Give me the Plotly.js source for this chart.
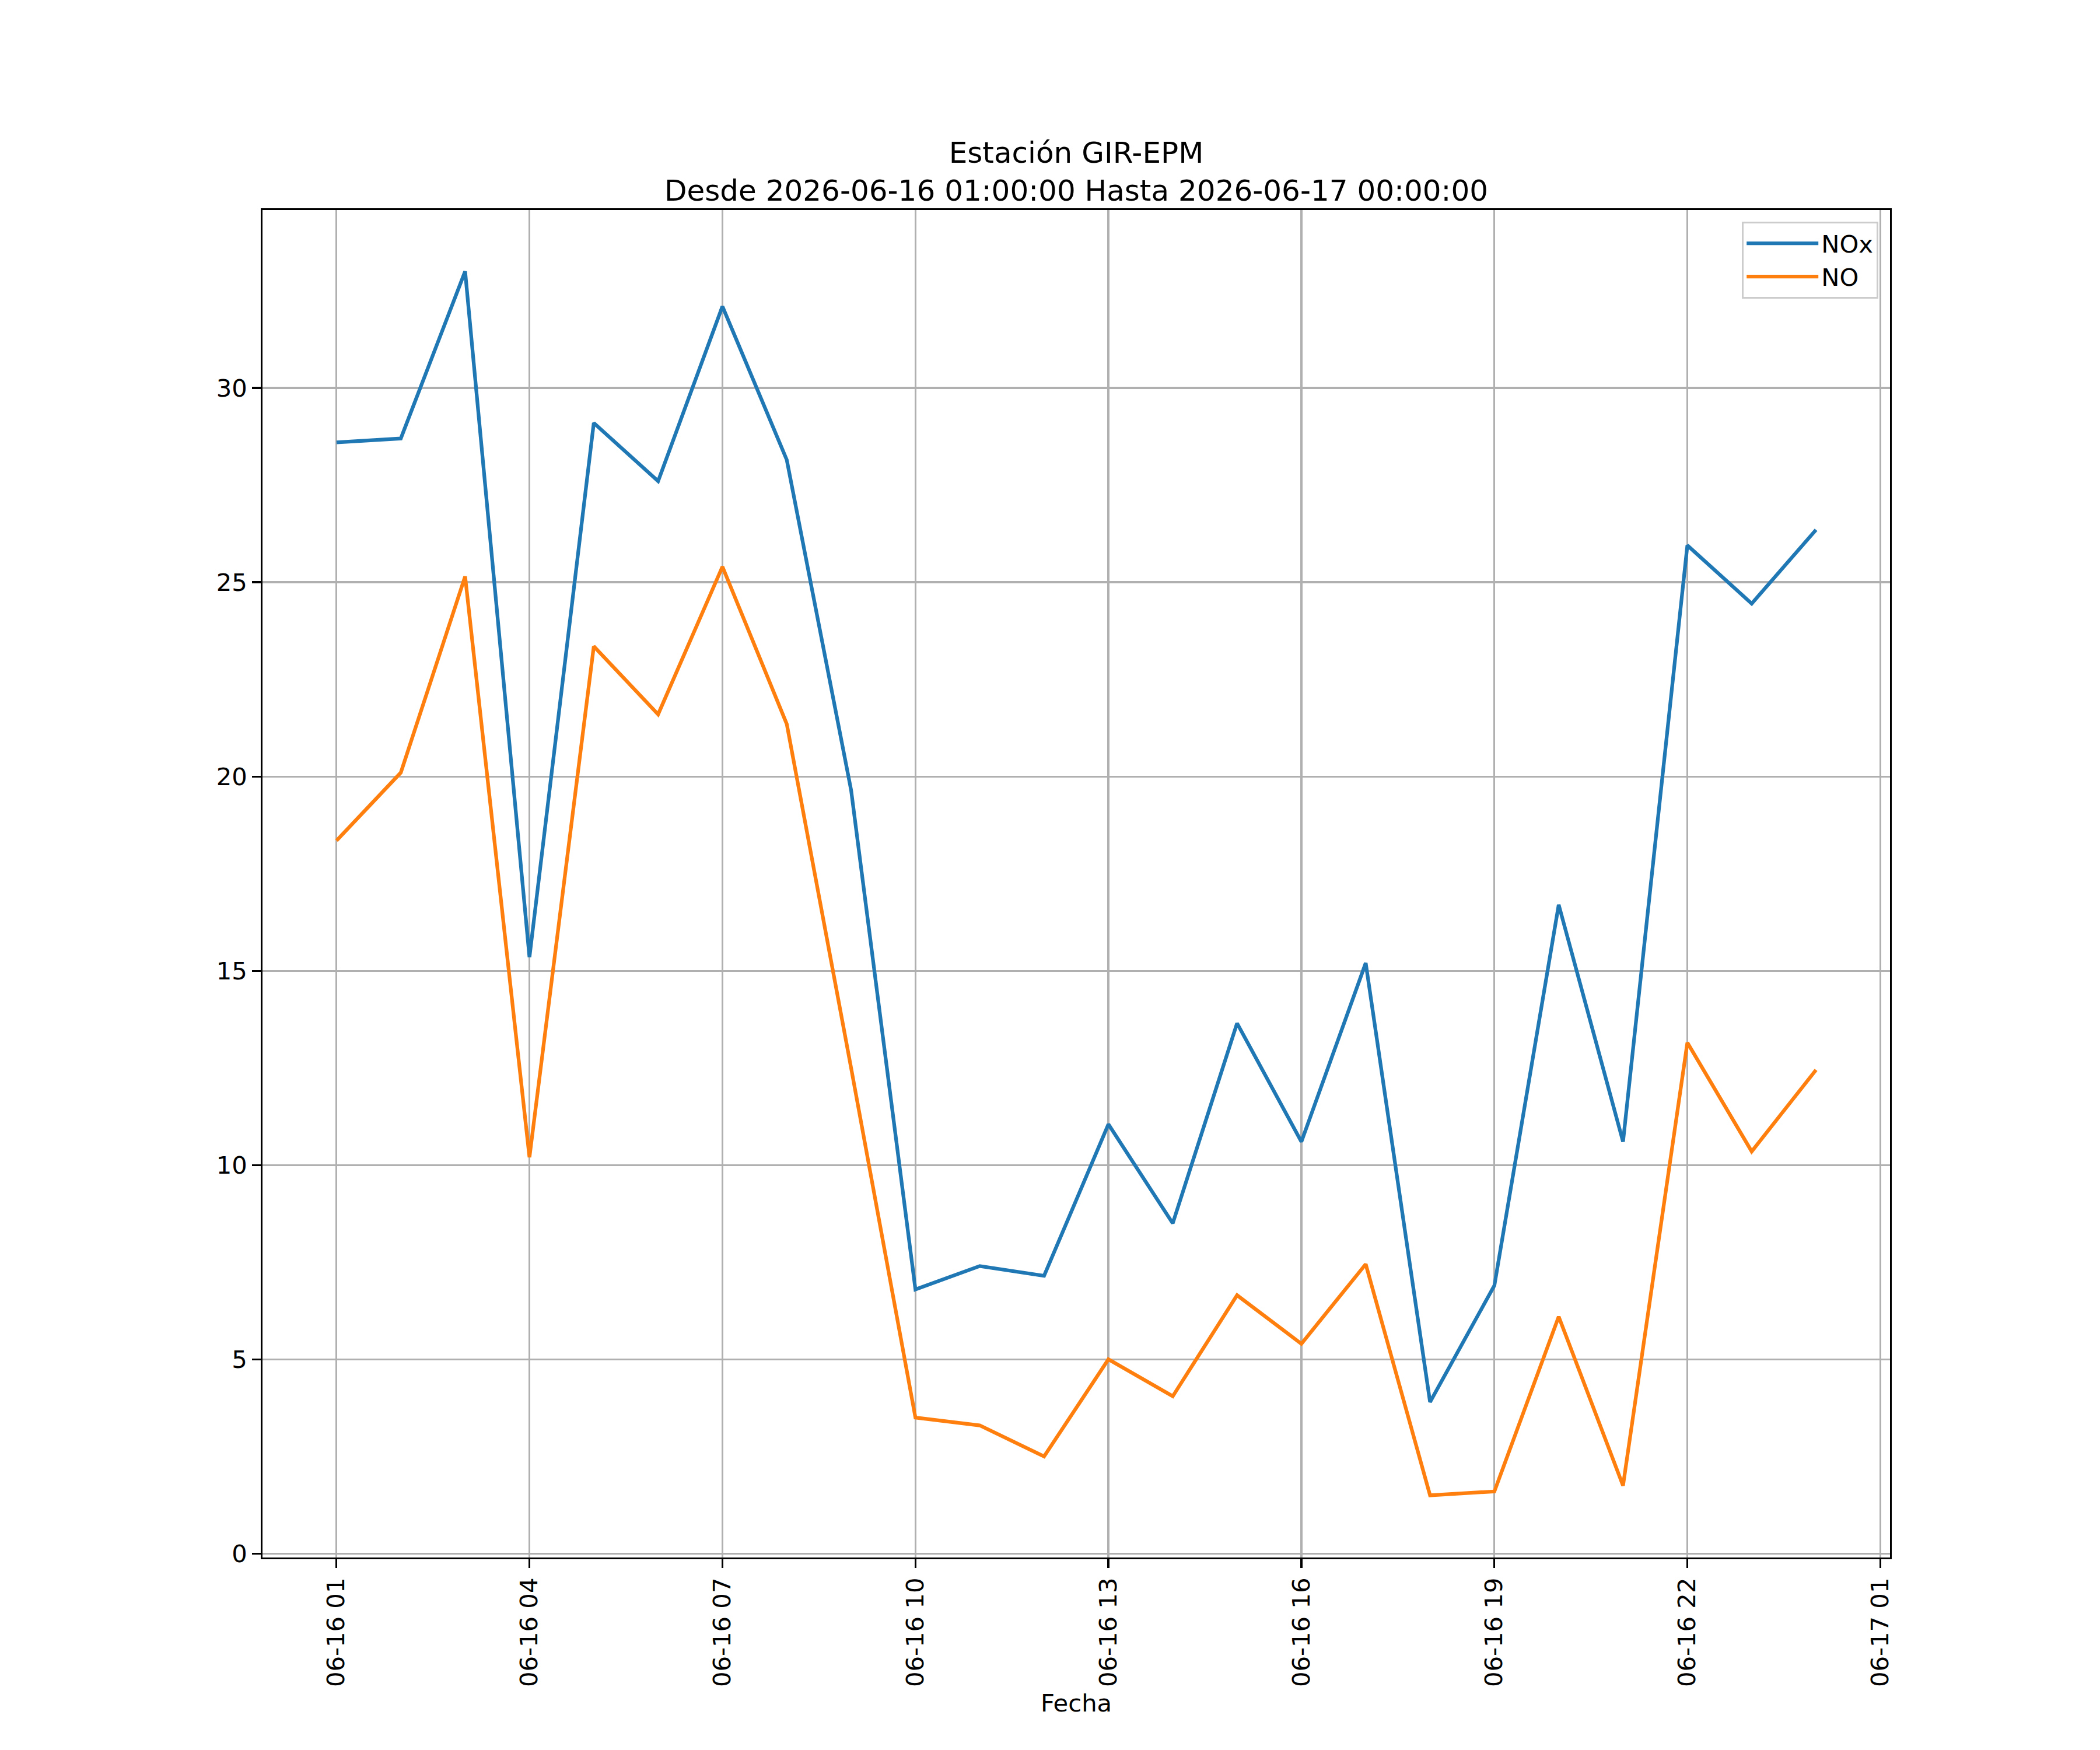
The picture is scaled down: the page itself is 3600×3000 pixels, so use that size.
<!DOCTYPE html>
<html>
<head>
<meta charset="utf-8">
<script src="https://cdn.plot.ly/plotly-3.0.1.min.js"></script>
<style>html,body{margin:0;padding:0;background:#fff;}</style>
</head>
<body>
<div id="chart" style="width:3600px;height:3000px;"></div>
<script>
const fechas = [
  '2026-06-16 01:00', '2026-06-16 02:00', '2026-06-16 03:00', '2026-06-16 04:00',
  '2026-06-16 05:00', '2026-06-16 06:00', '2026-06-16 07:00', '2026-06-16 08:00',
  '2026-06-16 09:00', '2026-06-16 10:00', '2026-06-16 11:00', '2026-06-16 12:00',
  '2026-06-16 13:00', '2026-06-16 14:00', '2026-06-16 15:00', '2026-06-16 16:00',
  '2026-06-16 17:00', '2026-06-16 18:00', '2026-06-16 19:00', '2026-06-16 20:00',
  '2026-06-16 21:00', '2026-06-16 22:00', '2026-06-16 23:00', '2026-06-17 00:00'
];
const nox = [28.6, 28.7, 33.0, 15.35, 29.1, 27.6, 32.1, 28.15, 19.65, 6.8, 7.4, 7.15,
             11.05, 8.5, 13.65, 10.6, 15.2, 3.9, 6.9, 16.7, 10.6, 25.95, 24.45, 26.35];
const no = [18.35, 20.1, 25.15, 10.2, 23.35, 21.6, 25.4, 21.35, 12.5, 3.5, 3.3, 2.5,
            5.0, 4.05, 6.65, 5.4, 7.45, 1.5, 1.6, 6.1, 1.75, 13.15, 10.35, 12.45];
const xTickVals = ['2026-06-16 01:00', '2026-06-16 04:00', '2026-06-16 07:00', '2026-06-16 10:00',
                   '2026-06-16 13:00', '2026-06-16 16:00', '2026-06-16 19:00', '2026-06-16 22:00',
                   '2026-06-17 01:00'];
const xTickText = ['06-16 01', '06-16 04', '06-16 07', '06-16 10', '06-16 13',
                   '06-16 16', '06-16 19', '06-16 22', '06-17 01'];
const yTickVals = [0, 5, 10, 15, 20, 25, 30];
const titulo = 'Estación GIR-EPM<br>Desde 2026-06-16 01:00:00 Hasta 2026-06-17 00:00:00';

const FONT = 'DejaVu Sans, sans-serif';
const traces = [
  {x: fechas, y: nox, name: 'NOx', type: 'scatter', mode: 'lines',
   line: {color: '#1f77b4', width: 6.25}},
  {x: fechas, y: no, name: 'NO', type: 'scatter', mode: 'lines',
   line: {color: '#ff7f0e', width: 6.25}}
];
const layout = {
  width: 3600, height: 3000,
  margin: {l: 450, r: 360, t: 360, b: 330, pad: 0},
  paper_bgcolor: '#ffffff', plot_bgcolor: '#ffffff',
  font: {family: FONT, size: 41.7, color: '#000000'},
  title: {text: titulo, font: {family: FONT, size: 50, color: '#000'},
          x: 0.5, xref: 'paper', xanchor: 'center',
          y: 0.907, yref: 'container', yanchor: 'top'},
  showlegend: true,
  legend: {x: 0.9928, xanchor: 'right', y: 0.9913, yanchor: 'top',
           bgcolor: 'rgba(255,255,255,0.8)', bordercolor: '#cccccc', borderwidth: 3.3,
           font: {family: FONT, size: 41.7, color: '#000'}, itemwidth: 123, tracegroupgap: 0},
  xaxis: {
    type: 'date',
    range: ['2026-06-15 23:51:00', '2026-06-17 01:09:00'],
    tickmode: 'array', tickvals: xTickVals, ticktext: xTickText,
    tickangle: -90,
    ticks: 'outside', ticklen: 14.6, tickwidth: 3.3, tickcolor: '#000',
    showgrid: true, gridcolor: '#b0b0b0', gridwidth: 3.3,
    showline: true, linecolor: '#000', linewidth: 3.3, mirror: true,
    zeroline: false, automargin: false,
    tickfont: {family: FONT, size: 41.7, color: '#000'},
    title: {text: 'Fecha', font: {family: FONT, size: 41.7, color: '#000'}, standoff: 14}
  },
  yaxis: {
    range: [-0.1, 34.58],
    tickmode: 'array', tickvals: yTickVals,
    ticks: 'outside', ticklen: 14.6, tickwidth: 3.3, tickcolor: '#000',
    showgrid: true, gridcolor: '#b0b0b0', gridwidth: 3.3,
    showline: true, linecolor: '#000', linewidth: 3.3, mirror: true,
    zeroline: false, automargin: false,
    tickfont: {family: FONT, size: 41.7, color: '#000'}
  }
};
Plotly.newPlot('chart', traces, layout, {displayModeBar: false, staticPlot: true});
</script>
</body>
</html>
